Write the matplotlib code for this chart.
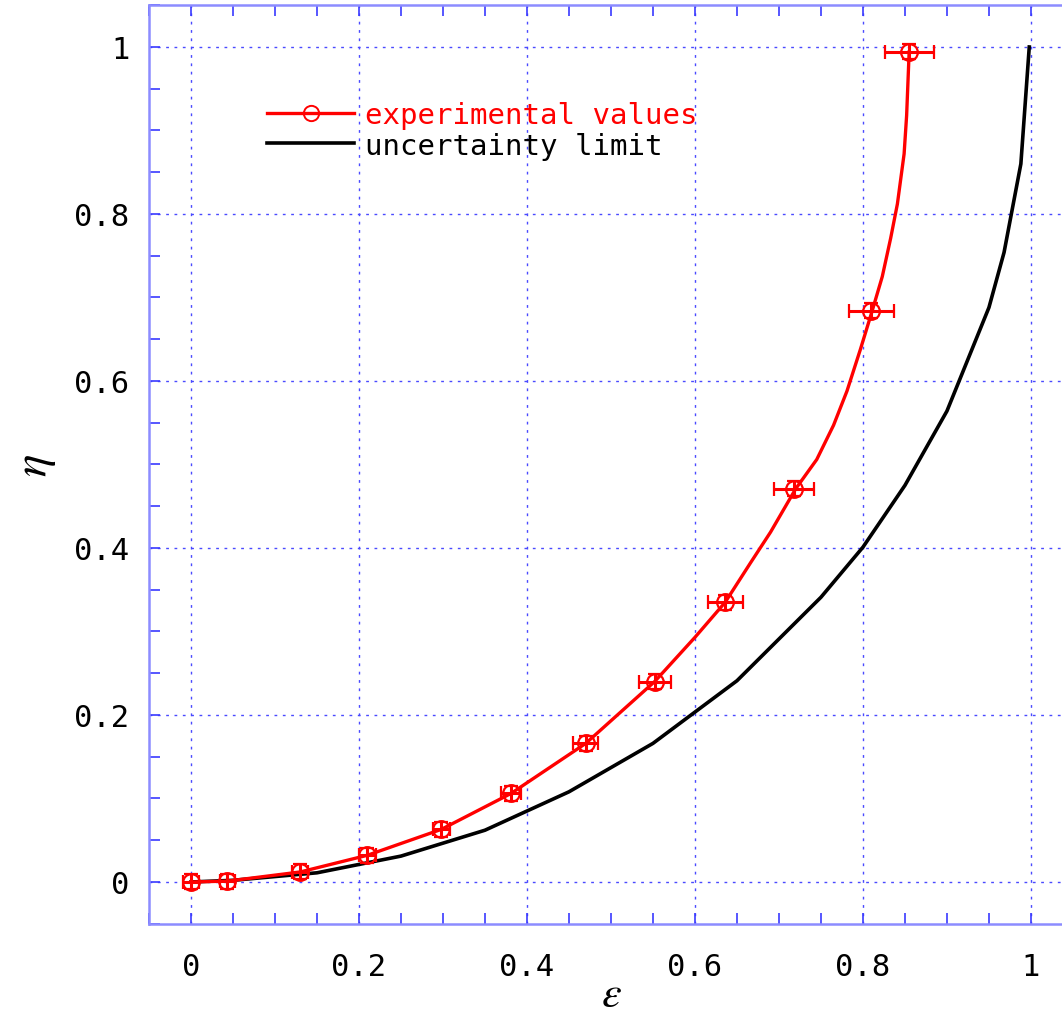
import matplotlib
matplotlib.use('Agg')
import matplotlib.pyplot as plt
from matplotlib.lines import Line2D
from matplotlib.ticker import MultipleLocator, FuncFormatter

plt.rcParams['font.family'] = ['DejaVu Sans Mono']
plt.rcParams['mathtext.fontset'] = 'stix'

# measured points with horizontal / vertical error bars
eps_exp = [0.0, 0.043, 0.13, 0.21, 0.298, 0.381, 0.47, 0.552, 0.636, 0.718, 0.81, 0.855]
eta_exp = [0.0, 0.001, 0.012, 0.032, 0.063, 0.106, 0.166, 0.240, 0.335, 0.471, 0.684, 0.994]
eps_err = [0.009, 0.009, 0.0095, 0.01, 0.01, 0.012, 0.015, 0.019, 0.021, 0.024, 0.027, 0.029]
eta_err = [0.009, 0.009, 0.009, 0.009, 0.009, 0.009, 0.009, 0.009, 0.009, 0.009, 0.009, 0.009]

# smooth curve through the measurements
eps_fit = [0.0, 0.043, 0.13, 0.21, 0.298, 0.381, 0.47, 0.552, 0.60, 0.636, 0.666,
           0.69, 0.72, 0.745, 0.765, 0.781, 0.797, 0.811, 0.823, 0.833, 0.841,
           0.849, 0.852, 0.855]
eta_fit = [0.0, 0.001, 0.012, 0.032, 0.063, 0.106, 0.166, 0.240, 0.293, 0.335, 0.382,
           0.419, 0.471, 0.506, 0.547, 0.588, 0.638, 0.684, 0.725, 0.771, 0.812,
           0.872, 0.918, 0.994]

# uncertainty limit
eps_lim = [0.0, 0.05, 0.15, 0.25, 0.35, 0.45, 0.55, 0.65, 0.75, 0.8, 0.85, 0.9,
           0.95, 0.968, 0.988, 0.998]
eta_lim = [0.0, 0.002, 0.011, 0.031, 0.062, 0.108, 0.166, 0.241, 0.341, 0.401, 0.475,
           0.564, 0.688, 0.754, 0.860, 1.0]

fig = plt.figure(figsize=(10.62, 10.20), dpi=100)
ax = fig.add_axes([0.1403, 0.0934, 0.870, 0.9005])

grid_c = '#4a4aff'
ax.grid(True, which='major', color=grid_c, linestyle=(0, (2, 4)), linewidth=1.0)
ax.set_axisbelow(True)

ax.plot(eps_lim, eta_lim, color='black', lw=2.6, zorder=3)
ax.plot(eps_fit, eta_fit, color='red', lw=2.4, zorder=4)
ax.errorbar(eps_exp, eta_exp, xerr=eps_err, yerr=eta_err, fmt='o', mfc='none',
            mec='red', ms=12, mew=1.6, ecolor='red', elinewidth=2.2,
            capsize=5, capthick=2.2, zorder=5)

ax.set_xlim(-0.05, 1.05)
ax.set_ylim(-0.05, 1.05)
ax.xaxis.set_major_locator(MultipleLocator(0.2))
ax.yaxis.set_major_locator(MultipleLocator(0.2))
ax.xaxis.set_minor_locator(MultipleLocator(0.05))
ax.yaxis.set_minor_locator(MultipleLocator(0.05))
fmt = FuncFormatter(lambda v, p: '%g' % round(v, 2))
ax.xaxis.set_major_formatter(fmt)
ax.yaxis.set_major_formatter(fmt)

ax.tick_params(which='both', direction='in', top=True, right=True,
               color='#3a3aff', width=1.2, labelsize=22, labelcolor='black')
ax.tick_params(which='major', length=8)
ax.tick_params(which='minor', length=8)
ax.tick_params(axis='x', pad=20)
ax.tick_params(axis='y', pad=14)
for s in ax.spines.values():
    s.set_color('#8c8cff')
    s.set_linewidth(1.8)

ax.set_xlabel(r'$\varepsilon$', fontsize=32, labelpad=-6)
ax.set_ylabel(r'$\eta$', fontsize=34, labelpad=12)

handles = [
    Line2D([], [], color='red', lw=2.4, marker='o', mfc='none', mec='red', ms=11, mew=1.4),
    Line2D([], [], color='black', lw=2.6),
]
leg = ax.legend(handles, ['experimental values', 'uncertainty limit'],
                loc='upper left', bbox_to_anchor=(0.1277, 0.896), frameon=False,
                fontsize=21, handlelength=3.0, handletextpad=0.35, labelspacing=0.1,
                borderpad=0, borderaxespad=0)
leg.get_texts()[0].set_color('red')

fig.savefig('out.png', dpi=100)
